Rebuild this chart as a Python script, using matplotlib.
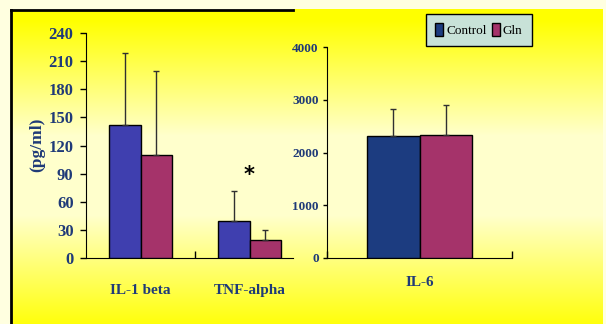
import matplotlib.pyplot as plt
import matplotlib.patches as mpatches
import numpy as np

# data
groups_left = ["IL-1 beta", "TNF-alpha"]
control_left = [142, 40]
control_left_err = [77, 32]
gln_left = [110, 19]
gln_left_err = [89, 11]

groups_right = ["IL-6"]
control_right = [2310]
control_right_err = [510]
gln_right = [2330]
gln_right_err = [570]

left_yticks = [0, 30, 60, 90, 120, 150, 180, 210, 240]
right_yticks = [0, 1000, 2000, 3000, 4000]
series_names = ["Control", "Gln"]
star_pos = (1.5, 89)

W, H = 606, 324
navy = "#1F3A78"
serif = "Liberation Serif"

fig = plt.figure(figsize=(W / 100, H / 100), dpi=100)

# background: cream frame with a yellow vertical gradient panel
cream = np.array([1.0, 1.0, 0.88])
yellow = np.array([1.0, 1.0, 0.0])
pale = np.array([1.0, 1.0, 0.80])
yy = np.arange(H)
t = np.clip((np.abs(yy - 175) - 40) / 115, 0, 1)[:, None]
col = pale * (1 - t) + yellow * t
img = np.tile(cream, (H, W, 1))
grad = np.repeat(col[:, None, :], W, axis=1)
img[10:, 11:603] = grad[10:, 11:603]
img[9:10, 293:603] = grad[9:10, 293:603]

bg = fig.add_axes([0, 0, 1, 1], zorder=0)
bg.imshow(img, extent=(0, W, H, 0), interpolation="nearest", aspect="auto")
bg.plot([11, 11], [10, H], color="black", lw=2)
bg.plot([11, 293], [10, 10], color="black", lw=2)
bg.set_xlim(0, W)
bg.set_ylim(H, 0)
bg.axis("off")

bar_kw = dict(edgecolor="black", linewidth=1.0, zorder=3)
err_kw = dict(ecolor="#303030", elinewidth=1.0, capsize=2.5, capthick=1.0)

# left panel
ax1 = fig.add_axes([86 / W, 1 - 258 / H, 218 / W, 225 / H], zorder=2)
ax1.patch.set_alpha(0)
w = 0.29
x = np.arange(len(groups_left)) + 0.5
ax1.bar(x - w / 2, control_left, w, color="#3F3FAF",
        yerr=[np.zeros(len(x)), control_left_err], error_kw=err_kw, **bar_kw)
ax1.bar(x + w / 2, gln_left, w, color="#A5336A",
        yerr=[np.zeros(len(x)), gln_left_err], error_kw=err_kw, **bar_kw)
ax1.text(star_pos[0], star_pos[1], "*", ha="center", va="center",
         fontsize=15, fontweight="bold", color="black")
ax1.set_xlim(0, 2)
ax1.set_ylim(0, 240)
ax1.set_yticks(left_yticks)
ax1.set_yticklabels([str(v) for v in left_yticks], family=serif,
                    fontweight="bold", fontsize=12, color=navy)
ax1.tick_params(axis="y", direction="out", length=4, width=1, pad=5)
ax1.set_xticks([1])
ax1.set_xticklabels([""])
ax1.tick_params(axis="x", which="major", direction="in", length=5, width=1)
ax1.set_xticks(x, minor=True)
ax1.set_xticklabels(groups_left, minor=True, family=serif, fontweight="bold",
                    fontsize=11, color=navy)
ax1.tick_params(axis="x", which="minor", length=0, pad=19)
ax1.spines["top"].set_visible(False)
ax1.spines["right"].set_visible(False)
ax1.spines["bottom"].set_bounds(0, 1.9)
fig.text(37 / W, 1 - 145 / H, "(pg/ml)", rotation=90, ha="center", va="center",
         family=serif, fontweight="bold", fontsize=12.5, color=navy)

# right panel
ax2 = fig.add_axes([327 / W, 1 - 258 / H, 185 / W, 211 / H], zorder=3)
ax2.patch.set_alpha(0)
w2 = 0.285
x2 = np.arange(len(groups_right)) + 0.5
ax2.bar(x2 - w2 / 2, control_right, w2, color="#1C3C80",
        yerr=[np.zeros(len(x2)), control_right_err], error_kw=err_kw, **bar_kw)
ax2.bar(x2 + w2 / 2, gln_right, w2, color="#A5336A",
        yerr=[np.zeros(len(x2)), gln_right_err], error_kw=err_kw, **bar_kw)
ax2.set_xlim(0, 1)
ax2.set_ylim(0, 4000)
ax2.set_yticks(right_yticks)
ax2.set_yticklabels([str(v) for v in right_yticks], family=serif,
                    fontweight="bold", fontsize=9.5, color=navy)
ax2.tick_params(axis="y", direction="out", length=3, width=1, pad=3)
ax2.set_xticks([0, 1])
ax2.set_xticklabels(["", ""])
ax2.tick_params(axis="x", which="major", direction="in", length=5, width=1)
ax2.set_xticks(x2, minor=True)
ax2.set_xticklabels(groups_right, minor=True, family=serif, fontweight="bold",
                    fontsize=11, color=navy)
ax2.tick_params(axis="x", which="minor", length=0, pad=13)
ax2.spines["top"].set_visible(False)
ax2.spines["right"].set_visible(False)

handles = [mpatches.Patch(facecolor="#1C3C80", edgecolor="black", label=series_names[0]),
           mpatches.Patch(facecolor="#A5336A", edgecolor="black", label=series_names[1])]
leg = fig.legend(handles=handles, loc="center", bbox_to_anchor=(479 / W, 1 - 30 / H),
                 ncol=2, frameon=True, fancybox=False, facecolor="#C8E2D8",
                 edgecolor="black", framealpha=1, handlelength=0.6, handleheight=1.1,
                 handletextpad=0.25, columnspacing=0.35, borderpad=0.7,
                 borderaxespad=0, prop={"family": serif, "size": 9.5})
leg.get_frame().set_linewidth(1.0)
leg.set_zorder(5)

plt.savefig("out.png", dpi=100)
